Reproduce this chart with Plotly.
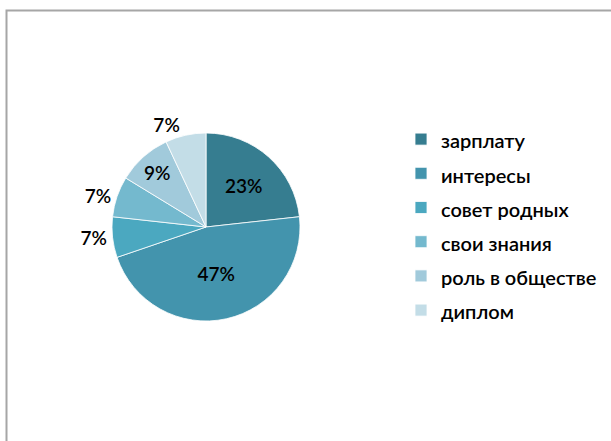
import plotly.graph_objects as go

categories = ["зарплату", "интересы", "совет родных", "свои знания", "роль в обществе", "диплом"]
values = [10, 20, 3, 3, 4, 3]
colors = ["#367d90", "#4394ad", "#4ba8c0", "#74b9ce", "#a1cadb", "#c3dde7"]
text_positions = ["inside", "inside", "outside", "outside", "inside", "outside"]

W, H = 611, 441
FONT = "Lato, 'Open Sans', sans-serif"
CX, CY, HALF = 206, 227, 94

legend_labels = ['<span style="font-size:20px">%s</span>' % c for c in categories]

fig = go.Figure(
    go.Pie(
        labels=legend_labels,
        values=values,
        sort=False,
        direction="clockwise",
        rotation=0,
        marker=dict(colors=colors, line=dict(color="white", width=0.8)),
        texttemplate="%{percent:.0%}",
        textposition=text_positions,
        insidetextorientation="horizontal",
        textfont=dict(family=FONT, size=19, color="black", weight=600),
        outsidetextfont=dict(family=FONT, size=19, color="black", weight=600),
        insidetextfont=dict(family=FONT, size=19, color="black", weight=600),
        domain=dict(x=[(CX - HALF) / W, (CX + HALF) / W], y=[1 - (CY + HALF) / H, 1 - (CY - HALF) / H]),
        hoverinfo="percent",
    )
)

fig.update_layout(
    width=W,
    height=H,
    margin=dict(l=0, r=0, t=0, b=0),
    paper_bgcolor="white",
    plot_bgcolor="white",
    showlegend=True,
    legend=dict(
        x=401 / W,
        y=1 - 117 / H,
        xanchor="left",
        yanchor="top",
        font=dict(family=FONT, size=24, color="black", weight=600),
        itemwidth=30,
        bgcolor="rgba(0,0,0,0)",
    ),
    shapes=[
        dict(
            type="rect",
            xref="paper",
            yref="paper",
            x0=6.5 / W,
            x1=1.1,
            y0=-0.1,
            y1=1 - 10.5 / H,
            line=dict(color="#a6a6a6", width=2),
            fillcolor="rgba(0,0,0,0)",
            layer="below",
        )
    ],
)

fig.write_html(
    "out.html",
    config={"displayModeBar": False},
    post_script="document.body.style.margin='0';",
)
